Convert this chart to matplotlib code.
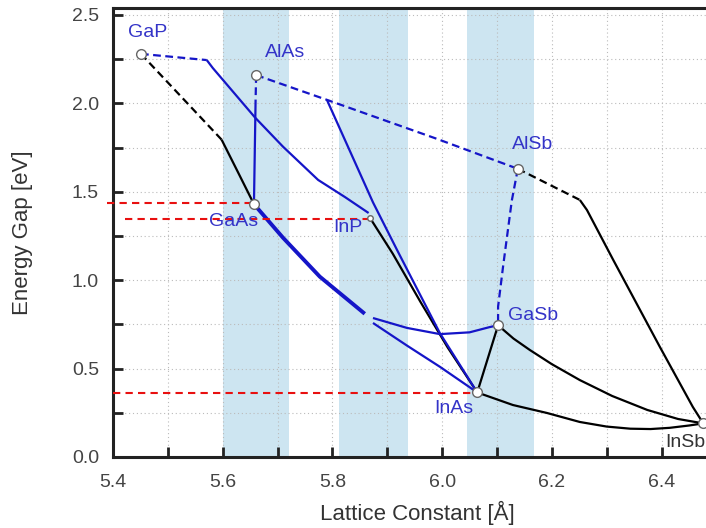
import numpy as np
import matplotlib
matplotlib.use("Agg")
from matplotlib import pyplot as plt
from matplotlib.ticker import MultipleLocator

plt.rcParams['font.family'] = ['Liberation Sans', 'DejaVu Sans']

# binary compounds: lattice constant [A], gap [eV]
names   = ["GaP", "AlAs", "GaAs", "InP", "AlSb", "GaSb", "InAs", "InSb"]
lattice = [5.451, 5.661, 5.657, 5.869, 6.138, 6.102, 6.064, 6.476]
gap     = [2.28, 2.16, 1.43, 1.35, 1.63, 0.745, 0.365, 0.19]

# label positions
lab_x = [5.464, 5.714, 5.619, 5.828, 6.164, 6.166, 6.022, 6.443]
lab_y = [2.40, 2.29, 1.33, 1.30, 1.765, 0.80, 0.277, 0.08]

# ternary alloys (dashed = indirect, solid = direct)
gaasp_ind_x = [5.451, 5.598]
gaasp_ind_y = [2.28, 1.795]
gaasp_dir_x = [5.598, 5.628, 5.657]
gaasp_dir_y = [1.795, 1.61, 1.43]

gainp_ind_x = [5.451, 5.571]
gainp_ind_y = [2.28, 2.245]
gainp_dir_x = [5.571, 5.582, 5.659, 5.71, 5.774, 5.823, 5.866]
gainp_dir_y = [2.245, 2.20, 1.92, 1.755, 1.567, 1.47, 1.38]

algaas_ind_x = [5.661, 5.660]
algaas_ind_y = [2.16, 2.02]
algaas_dir_x = [5.660, 5.657]
algaas_dir_y = [2.02, 1.43]

alassb_ind_x = [5.661, 5.79, 5.99, 6.138]
alassb_ind_y = [2.16, 2.02, 1.80, 1.63]

alinas_dir_x = [5.79, 5.874, 5.918, 5.996, 6.064]
alinas_dir_y = [2.02, 1.44, 1.17, 0.70, 0.365]

inasp_x = [5.869, 5.91, 5.96, 6.01, 6.064]
inasp_y = [1.35, 1.15, 0.88, 0.62, 0.365]

gaas_common_x = [5.657, 5.71, 5.777, 5.859]
gaas_common_y = [1.43, 1.24, 1.02, 0.81]

ingaas_x = [5.874, 5.936, 5.996, 6.064]
ingaas_y = [0.758, 0.63, 0.51, 0.365]

gaassb_x = [5.874, 5.936, 5.996, 6.05, 6.087, 6.102]
gaassb_y = [0.786, 0.73, 0.695, 0.705, 0.735, 0.745]

alsbgasb_ind_x = [6.138, 6.127, 6.111, 6.102, 6.102]
alsbgasb_ind_y = [1.63, 1.45, 1.075, 0.85, 0.745]

alinsb_ind_x = [6.138, 6.251]
alinsb_ind_y = [1.63, 1.454]
alinsb_dir_x = [6.251, 6.264, 6.312, 6.397, 6.457, 6.476]
alinsb_dir_y = [1.454, 1.397, 1.114, 0.622, 0.283, 0.19]

gainsb_x = [6.102, 6.13, 6.16, 6.20, 6.251, 6.31, 6.374, 6.43, 6.476]
gainsb_y = [0.745, 0.67, 0.605, 0.525, 0.435, 0.345, 0.266, 0.215, 0.19]

inassb_x = [6.064, 6.129, 6.191, 6.251, 6.30, 6.343, 6.38, 6.415, 6.45, 6.476]
inassb_y = [0.365, 0.294, 0.249, 0.198, 0.172, 0.16, 0.158, 0.165, 0.178, 0.19]

gasb_inas_x = [6.102, 6.064]
gasb_inas_y = [0.745, 0.365]

# shaded lattice-constant bands
bands = [(5.60, 5.72), (5.812, 5.938), (6.045, 6.167)]

# red reference lines: start x, level, end x
ref_start = [5.39, 5.422, 5.40]
ref_level = [1.437, 1.346, 0.362]
ref_end   = [5.657, 5.869, 6.064]

BLUE = "#1515c8"
TXT_BLUE = "#3434c8"
LW = 1.6
DASH = (3.5, 2.0)

fig = plt.figure(figsize=(7.06, 5.28), dpi=100)
ax = fig.add_axes([0.160, 0.1345, 0.84, 0.8505])

for a, b in bands:
    ax.axvspan(a, b, color="#cde5f1", lw=0, zorder=0)

ax.set_xlim(5.4, 6.481)
ax.set_ylim(0, 2.54)
ax.xaxis.set_major_locator(MultipleLocator(0.2))
ax.xaxis.set_minor_locator(MultipleLocator(0.1))
ax.yaxis.set_major_locator(MultipleLocator(0.5))
ax.yaxis.set_minor_locator(MultipleLocator(0.25))
ax.grid(True, which="both", color="#bbbbbb", ls=(0, (1, 2.5)), lw=0.8, zorder=0.5)
ax.tick_params(which="both", direction="in", length=7, width=2, colors="#222222",
               labelcolor="#444444", labelsize=14, top=False, right=False)
ax.tick_params(axis="x", pad=12)
ax.tick_params(axis="y", pad=10)
for s in ["left", "bottom", "top"]:
    ax.spines[s].set_linewidth(2.2)
    ax.spines[s].set_color("#222222")
ax.spines["right"].set_visible(False)

def seg(x, y, color, dashed=False, lw=LW):
    line, = ax.plot(x, y, color=color, lw=lw, zorder=3, solid_capstyle="butt")
    if dashed:
        line.set_dashes(DASH)

# black curves
seg(gaasp_ind_x, gaasp_ind_y, "black", True)
seg(gaasp_dir_x, gaasp_dir_y, "black")
seg(inasp_x, inasp_y, "black")
seg(alinsb_ind_x, alinsb_ind_y, "black", True)
seg(alinsb_dir_x, alinsb_dir_y, "black")
seg(gainsb_x, gainsb_y, "black")
seg(inassb_x, inassb_y, "black")
seg(gasb_inas_x, gasb_inas_y, "black")

# blue curves
seg(gainp_ind_x, gainp_ind_y, BLUE, True)
seg(gainp_dir_x, gainp_dir_y, BLUE)
seg(algaas_ind_x, algaas_ind_y, BLUE, True)
seg(algaas_dir_x, algaas_dir_y, BLUE)
seg(alassb_ind_x, alassb_ind_y, BLUE, True)
seg(alinas_dir_x, alinas_dir_y, BLUE)
seg(gaas_common_x, gaas_common_y, BLUE, lw=2.8)
seg(ingaas_x, ingaas_y, BLUE)
seg(gaassb_x, gaassb_y, BLUE)
seg(alsbgasb_ind_x, alsbgasb_ind_y, BLUE, True)

# red dashed reference lines
for xs, lv, xe in zip(ref_start, ref_level, ref_end):
    l, = ax.plot([xs, xe], [lv, lv], color="#e81010", lw=1.5, zorder=4, clip_on=False)
    l.set_dashes((3.5, 2.5))

# compound markers and labels
for i, n in enumerate(names):
    ms = 4 if n == "InP" else 7
    ax.plot(lattice[i], gap[i], "o", ms=ms, mfc="white", mec="#666666", mew=1.0,
            zorder=5, clip_on=False)
    ax.text(lab_x[i], lab_y[i], n, ha="center", va="center", fontsize=14,
            color="#333333" if n == "InSb" else TXT_BLUE, zorder=6)

ax.set_xlabel("Lattice Constant [Å]", fontsize=16, color="#333333")
ax.set_ylabel("Energy Gap [eV]", fontsize=16, color="#333333")
ax.xaxis.set_label_coords(0.514, -0.098)
ax.yaxis.set_label_coords(-0.135, 0.5)

fig.savefig("out.png", dpi=100)
